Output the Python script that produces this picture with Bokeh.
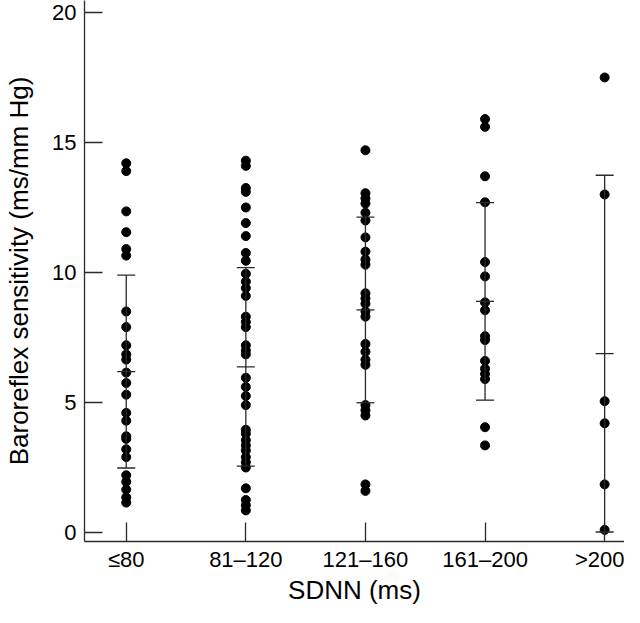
from bokeh.plotting import figure
from bokeh.models import Range1d, FixedTicker
from bokeh.embed import file_html
from bokeh.resources import INLINE

# ---- data ----
groups = ["≤80", "81–120", "121–160", "161–200", ">200"]
bs_le80 = [14.2, 13.9, 12.35, 11.55, 10.9, 10.65, 8.5, 7.9, 7.2, 6.85, 6.65, 6.15,
           5.75, 5.3, 4.6, 4.3, 3.7, 3.6, 3.2, 2.9, 2.2, 1.95, 1.65, 1.35, 1.15]
bs_81_120 = [14.3, 14.1, 13.25, 13.1, 12.5, 11.9, 11.4, 10.75, 10.45, 9.95, 9.65, 9.4,
             9.1, 8.3, 8.1, 7.9, 7.2, 7.0, 6.85, 5.95, 5.6, 5.25, 4.9, 3.95, 3.8, 3.55,
             3.35, 3.15, 2.9, 2.7, 2.5, 1.7, 1.25, 1.05, 0.85]
bs_121_160 = [14.7, 13.05, 12.85, 12.65, 12.3, 12.0, 11.35, 10.8, 10.5, 10.3, 9.2, 9.0,
              8.8, 8.5, 8.3, 7.25, 6.95, 6.65, 6.45, 4.9, 4.7, 4.5, 1.85, 1.6]
bs_161_200 = [15.9, 15.6, 13.7, 12.7, 10.4, 9.85, 8.85, 8.55, 7.55, 7.4, 6.6, 6.3,
              6.1, 5.9, 4.05, 3.35]
bs_gt200 = [17.5, 13.0, 5.05, 4.2, 1.85, 0.1]
series = [bs_le80, bs_81_120, bs_121_160, bs_161_200, bs_gt200]
means = [6.19, 6.37, 8.56, 8.89, 6.88]
sds = [3.71, 3.82, 3.57, 3.80, 6.86]
y_ticks = [0, 5, 10, 15, 20]

FONT = "Liberation Sans"
INK = "#2a2a2a"

x_start, x_end = 0.651, 5.166
y_start, y_end = -0.346, 20.46

p = figure(width=624, height=607, output_backend="svg", toolbar_location=None,
           x_range=Range1d(x_start, x_end), y_range=Range1d(y_start, y_end),
           min_border_left=84, min_border_right=0, min_border_top=0,
           min_border_bottom=66)
p.outline_line_color = None
p.grid.visible = False
p.background_fill_color = "white"
p.border_fill_color = "white"

xpos = [i + 1 for i in range(len(groups))]

# points
xs, ys = [], []
for xi, vals in zip(xpos, series):
    xs.extend([xi] * len(vals))
    ys.extend(vals)
p.scatter(xs, ys, marker="circle", size=9, fill_color="black", line_color="black")

# mean +/- SD bars
lo = [m - s for m, s in zip(means, sds)]
hi = [m + s for m, s in zip(means, sds)]
p.segment(x0=xpos, y0=lo, x1=xpos, y1=hi, line_color=INK, line_width=1.3)
for arr in (lo, means, hi):
    p.scatter(xpos, arr, marker="dash", size=18, line_color=INK, line_width=1.3)

# axes
p.xaxis.ticker = FixedTicker(ticks=xpos)
p.xaxis.major_label_overrides = {xi: g for xi, g in zip(xpos, groups)}
p.yaxis.ticker = FixedTicker(ticks=y_ticks)
for ax in (p.xaxis, p.yaxis):
    ax.minor_tick_line_color = None
    ax.major_tick_out = 0
    ax.axis_line_color = INK
    ax.axis_line_width = 1.3
    ax.major_tick_line_color = INK
    ax.major_tick_line_width = 1.3
    ax.major_label_text_font = FONT
    ax.major_label_text_font_size = "22px"
    ax.major_label_text_color = "black"
    ax.axis_label_text_font = FONT
    ax.axis_label_text_font_size = "26px"
    ax.axis_label_text_font_style = "normal"
    ax.axis_label_text_color = "black"
p.xaxis.major_tick_in = 19
p.yaxis.major_tick_in = 18
p.xaxis.major_label_standoff = 5
p.yaxis.major_label_standoff = 8
p.xaxis.axis_label = "SDNN (ms)"
p.xaxis.axis_label_standoff = 0
p.yaxis.axis_label = "Baroreflex sensitivity (ms/mm Hg)"
p.yaxis.axis_label_standoff = 15

open("out.html", "w").write(file_html(p, INLINE))
